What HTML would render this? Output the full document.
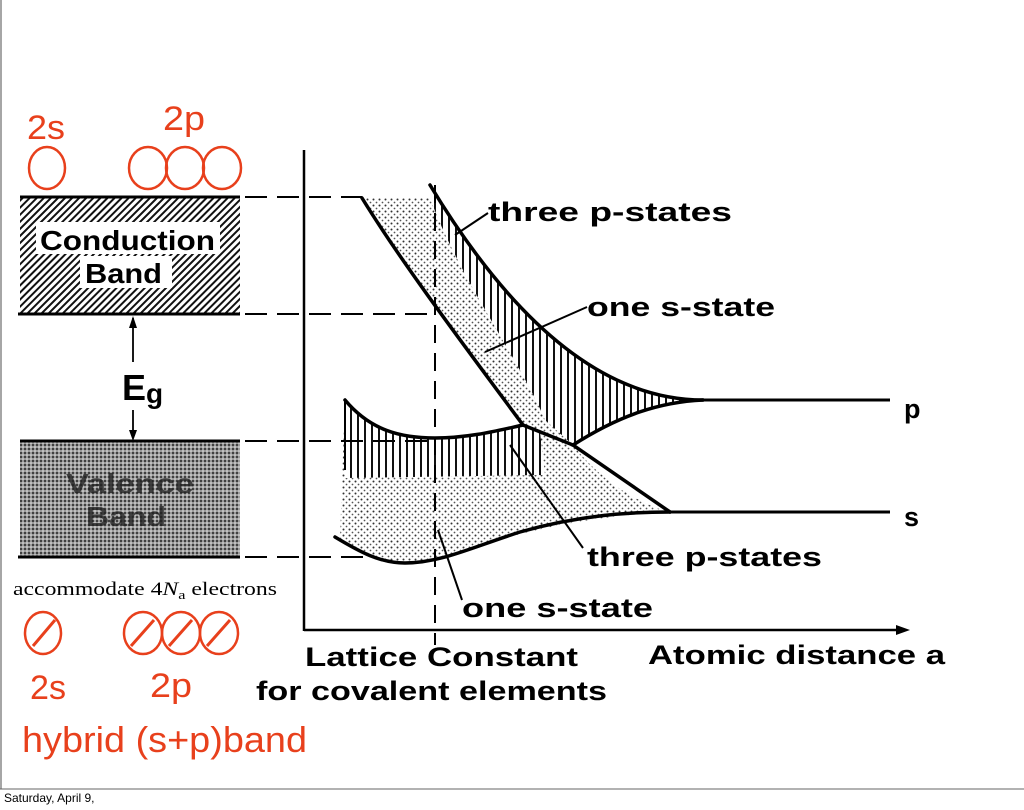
<!DOCTYPE html>
<html><head><meta charset="utf-8"><style>
html,body{margin:0;padding:0;background:#fff;}
body{width:1024px;height:810px;overflow:hidden;position:relative;}
svg{position:absolute;left:0;top:0;}
</style></head><body>
<svg width="1024" height="810" viewBox="0 0 1024 810" xmlns="http://www.w3.org/2000/svg">
<defs>
<pattern id="diag" width="5" height="5" patternUnits="userSpaceOnUse" patternTransform="rotate(45)">
<rect width="5" height="5" fill="#fff"/><rect width="2" height="5" fill="#111"/></pattern>
<pattern id="dots" width="4" height="4" patternUnits="userSpaceOnUse">
<rect width="4" height="4" fill="#9a9a9a"/><circle cx="1" cy="1" r="1" fill="#222"/><circle cx="3" cy="3" r="0.8" fill="#eee"/></pattern>
<pattern id="vh" width="7" height="7" patternUnits="userSpaceOnUse">
<rect width="7" height="7" fill="#fff"/><rect width="2" height="7" fill="#111"/></pattern>
<pattern id="sd" width="6" height="6" patternUnits="userSpaceOnUse">
<rect width="6" height="6" fill="#fff"/><circle cx="1.5" cy="1.5" r="1" fill="#333"/><circle cx="4.5" cy="4.5" r="0.9" fill="#555"/></pattern>
</defs>
<line x1="1" y1="0" x2="1" y2="789" stroke="#888" stroke-width="1.5"/>
<line x1="0" y1="789" x2="1024" y2="789" stroke="#666" stroke-width="1"/>
<text x="4" y="802" font-family="Liberation Sans, sans-serif" font-size="12">Saturday, April 9,</text>

<!-- left bands -->
<rect x="20" y="197" width="220" height="117" fill="url(#diag)"/>
<rect x="36" y="222" width="184" height="32" fill="#fff"/>
<rect x="80" y="256" width="92" height="32" fill="#fff"/>
<line x1="20" y1="197" x2="240" y2="197" stroke="#000" stroke-width="3"/>
<line x1="18" y1="314" x2="240" y2="314" stroke="#000" stroke-width="3"/>
<text x="40" y="250" textLength="175" lengthAdjust="spacingAndGlyphs" font-family="Liberation Sans, sans-serif" font-weight="bold" font-size="28">Conduction</text>
<text x="85" y="283" textLength="77" lengthAdjust="spacingAndGlyphs" font-family="Liberation Sans, sans-serif" font-weight="bold" font-size="28">Band</text>
<rect x="20" y="441" width="220" height="116" fill="url(#dots)"/>
<line x1="20" y1="441" x2="240" y2="441" stroke="#000" stroke-width="3"/>
<line x1="18" y1="557" x2="240" y2="557" stroke="#000" stroke-width="3"/>
<text x="66" y="493" textLength="128" lengthAdjust="spacingAndGlyphs" font-family="Liberation Sans, sans-serif" font-weight="bold" font-size="28" fill="#222" opacity="0.8">Valence</text>
<text x="86" y="526" textLength="80" lengthAdjust="spacingAndGlyphs" font-family="Liberation Sans, sans-serif" font-weight="bold" font-size="28" fill="#222" opacity="0.8">Band</text>
<line x1="133" y1="318" x2="133" y2="437" stroke="#000" stroke-width="1.8"/>
<path d="M129 328 L133 316 L137 328 Z M129 430 L133 441 L137 430 Z" fill="#000"/>
<rect x="120" y="362" width="44" height="48" fill="#fff"/>
<text x="122" y="400" font-family="Liberation Sans, sans-serif" font-weight="bold" font-size="36">E</text>
<text x="146" y="403" font-family="Liberation Sans, sans-serif" font-weight="bold" font-size="28">g</text>

<!-- red orbitals -->
<g fill="none" stroke="#e8401c" stroke-width="2.5">
<ellipse cx="47" cy="168" rx="18" ry="21"/>
<ellipse cx="148" cy="168" rx="19" ry="21"/>
<ellipse cx="185" cy="168" rx="19" ry="21"/>
<ellipse cx="222" cy="168" rx="19" ry="21"/>
<ellipse cx="43" cy="633" rx="18" ry="21"/>
<ellipse cx="143" cy="633" rx="19" ry="21"/>
<ellipse cx="181" cy="633" rx="19" ry="21"/>
<ellipse cx="219" cy="633" rx="19" ry="21"/>
<path d="M33 646 L55 620 M131 646 L154 620 M169 646 L192 620 M207 646 L230 620" stroke-width="3"/>
</g>
<g font-family="Liberation Sans, sans-serif" fill="#e8401c">
<text x="27" y="139" textLength="38" lengthAdjust="spacingAndGlyphs" font-size="34">2s</text>
<text x="163" y="130" textLength="42" lengthAdjust="spacingAndGlyphs" font-size="34">2p</text>
<text x="30" y="699" textLength="36" lengthAdjust="spacingAndGlyphs" font-size="34">2s</text>
<text x="150" y="697" textLength="42" lengthAdjust="spacingAndGlyphs" font-size="34">2p</text>
<text x="22" y="752" textLength="285" lengthAdjust="spacingAndGlyphs" font-size="36">hybrid (s+p)band</text>
</g>
<text x="13" y="595" textLength="264" lengthAdjust="spacingAndGlyphs" font-family="Liberation Serif, serif" font-size="19">accommodate 4<tspan font-style="italic">N</tspan><tspan font-size="13" dy="4">a</tspan><tspan dy="-4"> electrons</tspan></text>

<!-- upper band region -->
<path d="M362 198 C400 260 460 340 523 425 L573 445 C620 415 660 402 703 400 Q560 400 430 185 L430 198 Z" fill="url(#sd)"/>
<path d="M430 185 Q560 400 703 400 C660 402 620 415 573 445 L545 420 C520 360 460 280 430 198 Z" fill="url(#vh)"/>
<!-- lower band region -->
<path d="M345 400 C370 430 400 438 435 438 C470 438 500 430 523 425 L573 445 C600 480 640 505 670 512 C600 515 520 530 470 550 C440 562 410 566 380 558 C360 550 345 542 340 538 Z" fill="url(#sd)"/>
<path d="M345 400 C370 430 400 438 435 438 C470 438 500 430 523 425 L540 432 L545 475 L345 478 Z" fill="url(#vh)"/>
<g fill="none" stroke="#000" stroke-width="3.5" stroke-linecap="round">
<path d="M362 198 C400 260 460 340 523 425 L573 445 L670 512"/>
<path d="M430 185 Q560 400 703 400"/>
<path d="M703 400 C660 402 620 415 573 445"/>
<path d="M345 400 C370 430 400 438 435 438 C470 438 500 430 523 425"/>
<path d="M335 537 C360 552 380 563 405 563 C440 563 470 548 520 532 C580 515 630 512 670 512"/>
</g>
<line x1="345" y1="400" x2="345" y2="470" stroke="#000" stroke-width="2"/>
<line x1="703" y1="400" x2="890" y2="400" stroke="#000" stroke-width="3"/>
<line x1="670" y1="512" x2="890" y2="512" stroke="#000" stroke-width="3"/>
<!-- axes -->
<line x1="304" y1="150" x2="304" y2="631" stroke="#000" stroke-width="2.5"/>
<line x1="304" y1="630" x2="898" y2="630" stroke="#000" stroke-width="2.5"/>
<path d="M896 625 L910 630 L896 635 Z" fill="#000"/>
<!-- dashed -->
<g stroke="#000" stroke-width="2" stroke-dasharray="22,10" fill="none">
<line x1="245" y1="197" x2="362" y2="197"/>
<line x1="245" y1="314" x2="432" y2="314"/>
<line x1="245" y1="441" x2="435" y2="441"/>
<line x1="245" y1="557" x2="375" y2="557"/>
<line x1="435" y1="185" x2="435" y2="645" stroke-dasharray="18,10"/>
</g>
<!-- leaders -->
<g stroke="#000" stroke-width="2" fill="none">
<path d="M455 235 L488 213"/>
<path d="M485 352 L587 307"/>
<path d="M510 445 L583 548"/>
<path d="M438 530 L462 600"/>
</g>
<g font-family="Liberation Sans, sans-serif" font-weight="bold" font-size="27" lengthAdjust="spacingAndGlyphs">
<text x="488" y="221" textLength="244" lengthAdjust="spacingAndGlyphs">three  p-states</text>
<text x="587" y="316" textLength="188" lengthAdjust="spacingAndGlyphs">one s-state</text>
<text x="904" y="418">p</text>
<text x="904" y="526">s</text>
<text x="587" y="566" textLength="235" lengthAdjust="spacingAndGlyphs">three p-states</text>
<text x="462" y="617" textLength="191" lengthAdjust="spacingAndGlyphs">one s-state</text>
<text x="305" y="666" textLength="273" lengthAdjust="spacingAndGlyphs">Lattice Constant</text>
<text x="256" y="700" textLength="351" lengthAdjust="spacingAndGlyphs">for covalent elements</text>
<text x="648" y="664" textLength="297" lengthAdjust="spacingAndGlyphs">Atomic distance a</text>
</g>
</svg>
</body></html>
